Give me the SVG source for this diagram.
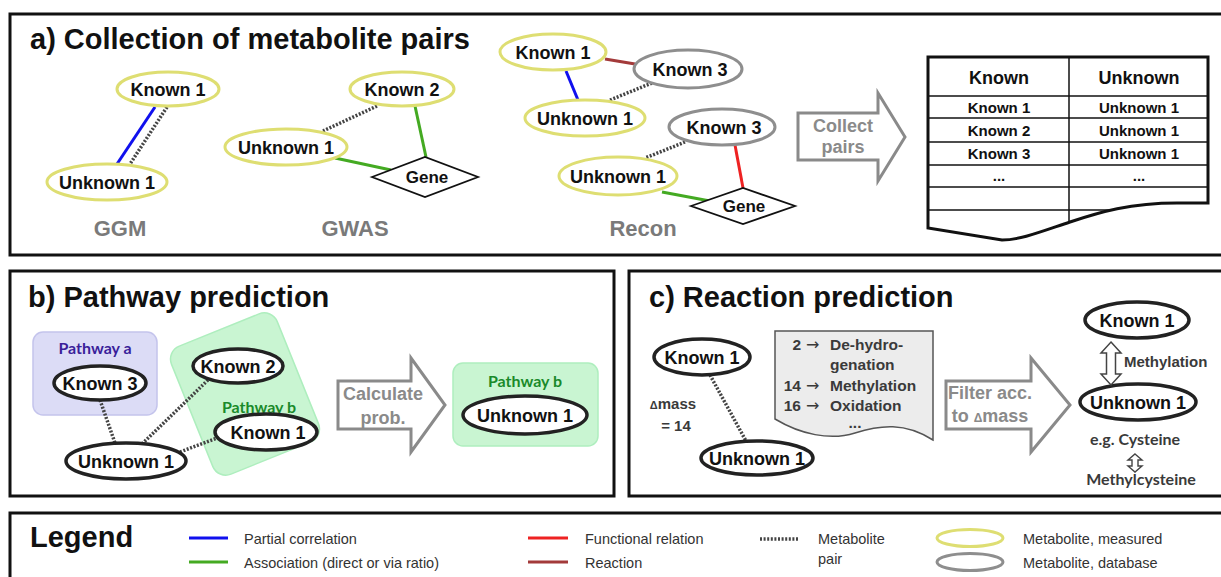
<svg xmlns="http://www.w3.org/2000/svg" width="1221" height="577" viewBox="0 0 1221 577">
  <defs>
    <style>
      .frame { fill: none; stroke: #111; stroke-width: 3; }
      .ttl { font: bold 29px 'Liberation Sans', Arial, sans-serif; fill: #111; }
      .nl { font: bold 18px 'Liberation Sans', Arial, sans-serif; fill: #111; text-anchor: middle; }
      .gl { font: bold 17px 'Liberation Sans', Arial, sans-serif; fill: #111; text-anchor: middle; }
      .src { font: bold 22px 'Liberation Sans', Arial, sans-serif; fill: #7a7a7a; text-anchor: middle; }
      .arr { fill: #fff; stroke: #8a8a8a; stroke-width: 3; stroke-linejoin: miter; }
      .arrt { font: bold 18px 'Liberation Sans', Arial, sans-serif; fill: #8a8a8a; text-anchor: middle; }
      .meas { fill: #fff; stroke: #dede72; stroke-width: 3; }
      .db { fill: #fff; stroke: #8e8e8e; stroke-width: 3; }
      .blk { fill: #fff; stroke: #222; stroke-width: 3.5; }
      .gene { fill: #fff; stroke: #111; stroke-width: 1.8; }
      .pair { stroke: #444; stroke-width: 3.5; stroke-dasharray: 2 1.6; fill: none; }
      .pcor { stroke: #1010ee; stroke-width: 3; }
      .assoc { stroke: #44aa22; stroke-width: 3; }
      .func { stroke: #ee2222; stroke-width: 3; }
      .react { stroke: #a33a3a; stroke-width: 3; }
      .th { font: bold 18px 'Liberation Sans', Arial, sans-serif; fill: #111; text-anchor: middle; }
      .td { font: bold 15px 'Liberation Sans', Arial, sans-serif; fill: #111; text-anchor: middle; }
      .tline { stroke: #111; stroke-width: 1.5; }
      .pw { font: bold 16px Lato, 'Open Sans', sans-serif; text-anchor: middle; }
      .doc { font: bold 15.5px 'Liberation Sans', Arial, sans-serif; fill: #3a3a3a; }
      .ar { font: 16px 'DejaVu Sans', sans-serif; fill: #3a3a3a; }
      .dk { font: bold 15px 'Liberation Sans', Arial, sans-serif; fill: #3a3a3a; }
      .cal { font: bold 16px Lato, 'Open Sans', sans-serif; fill: #3a3a3a; text-anchor: middle; }
      .lg { font: 14.5px 'Liberation Sans', Arial, sans-serif; fill: #333; }
    </style>
    <clipPath id="tableClip">
      <path d="M928,57 H1208 V203 H1177 C1130,203 1100,212 1070,222 C1040,232 1020,240 1002,240 L928,228 Z"/>
    </clipPath>
  </defs>

  <rect width="1221" height="577" fill="#fff"/>

  <!-- panel frames -->
  <rect class="frame" x="10" y="14" width="1220" height="241"/>
  <rect class="frame" x="10" y="271" width="604" height="225"/>
  <rect class="frame" x="629" y="271" width="600" height="225"/>
  <rect class="frame" x="10" y="513" width="1220" height="80"/>

  <!-- titles -->
  <text class="ttl" x="30" y="49">a) Collection of metabolite pairs</text>
  <text class="ttl" x="28" y="307">b) Pathway prediction</text>
  <text class="ttl" x="649" y="307">c) Reaction prediction</text>
  <text class="ttl" x="30" y="547">Legend</text>

  <!-- pathway backgrounds -->
  <g id="pathway-a">
    <rect x="33" y="332" width="124" height="83" rx="10" fill="#dcdcf6" stroke="#c4c4ec" stroke-width="1.5"/>
    <text class="pw" x="95" y="354" fill="#3a1e9a">Pathway a</text>
  </g>
  <g id="pathway-b">
    <rect x="-57" y="-69" width="114" height="138" rx="14" fill="#c9f5d2" stroke="#aeeebe" stroke-width="1.5" transform="translate(245,394) rotate(-22)"/>
    <text class="pw" x="259" y="413" fill="#1a8a2a">Pathway b</text>
  </g>
  <g id="pathway-b-result">
    <rect x="453" y="363" width="145" height="83" rx="10" fill="#c9f5d2" stroke="#aeeebe" stroke-width="1.5"/>
    <text class="pw" x="525" y="387" fill="#1a8a2a">Pathway b</text>
  </g>

  <!-- connectors -->
  <g id="connectors">
    <!-- GGM -->
    <line class="pcor" x1="155" y1="107" x2="117" y2="164"/>
    <line class="pair" x1="167" y1="107" x2="130" y2="164"/>
    <!-- GWAS -->
    <line class="pair" x1="377" y1="106" x2="323" y2="131"/>
    <line class="assoc" x1="415" y1="106" x2="426" y2="157"/>
    <line class="assoc" x1="335" y1="158" x2="391" y2="170"/>
    <!-- Recon -->
    <line class="react" x1="605" y1="59" x2="635" y2="64"/>
    <line class="pcor" x1="566" y1="71" x2="578" y2="100"/>
    <line class="pair" x1="610" y1="100" x2="652" y2="83"/>
    <line class="pair" x1="685" y1="142" x2="645" y2="158"/>
    <line class="func" x1="735" y1="145" x2="743" y2="188"/>
    <line class="assoc" x1="662" y1="192" x2="710" y2="201"/>
    <!-- pathway prediction -->
    <line class="pair" x1="100" y1="400" x2="115" y2="443"/>
    <line class="pair" x1="142" y1="444" x2="208" y2="380"/>
    <line class="pair" x1="180" y1="452" x2="217" y2="438"/>
    <!-- reaction prediction -->
    <line class="pair" x1="710" y1="375" x2="746" y2="441"/>
  </g>

  <!-- a) GGM -->
  <g id="ggm-known1"><ellipse class="meas" cx="168" cy="89" rx="51" ry="17"/><text class="nl" x="168" y="95.5">Known 1</text></g>
  <g id="ggm-unknown1"><ellipse class="meas" cx="107" cy="182" rx="60" ry="18"/><text class="nl" x="107" y="188.5">Unknown 1</text></g>
  <text class="src" x="120" y="236">GGM</text>

  <!-- a) GWAS -->
  <g id="gwas-known2"><ellipse class="meas" cx="402" cy="89" rx="52" ry="17"/><text class="nl" x="402" y="95.5">Known 2</text></g>
  <g id="gwas-unknown1"><ellipse class="meas" cx="286" cy="147" rx="61" ry="18"/><text class="nl" x="286" y="153.5">Unknown 1</text></g>
  <g id="gwas-gene"><polygon class="gene" points="372,177 425,157 478,177 425,197"/><text class="gl" x="427" y="183">Gene</text></g>
  <text class="src" x="355" y="236">GWAS</text>

  <!-- a) Recon -->
  <g id="recon-known1"><ellipse class="meas" cx="553" cy="52" rx="53" ry="18"/><text class="nl" x="553" y="58.5">Known 1</text></g>
  <g id="recon-known3a"><ellipse class="db" cx="688" cy="69" rx="54" ry="19"/><text class="nl" x="690" y="75.5">Known 3</text></g>
  <g id="recon-unknown1a"><ellipse class="meas" cx="585" cy="118" rx="60" ry="18"/><text class="nl" x="585" y="124.5">Unknown 1</text></g>
  <g id="recon-known3b"><ellipse class="db" cx="722" cy="127" rx="53" ry="18"/><text class="nl" x="724" y="133.5">Known 3</text></g>
  <g id="recon-unknown1b"><ellipse class="meas" cx="618" cy="176" rx="59" ry="19"/><text class="nl" x="618" y="182.5">Unknown 1</text></g>
  <g id="recon-gene"><polygon class="gene" points="691,206 743,188 795,206 743,224"/><text class="gl" x="744" y="212">Gene</text></g>
  <text class="src" x="643" y="236">Recon</text>

  <!-- a) collect arrow -->
  <g id="collect-arrow">
    <path class="arr" d="M798,113 H878 V93 L905,137 L878,181 V160 H798 Z"/>
    <text class="arrt" x="843" y="132">Collect</text>
    <text class="arrt" x="843" y="153">pairs</text>
  </g>

  <!-- a) pair table -->
  <g id="pair-table">
    <path d="M928,57 H1208 V203 H1177 C1130,203 1100,212 1070,222 C1040,232 1020,240 1002,240 L928,228 Z" fill="#fff"/>
    <g clip-path="url(#tableClip)">
      <line class="tline" x1="928" y1="96" x2="1208" y2="96"/>
      <line class="tline" x1="928" y1="118" x2="1208" y2="118"/>
      <line class="tline" x1="928" y1="142" x2="1208" y2="142"/>
      <line class="tline" x1="928" y1="165" x2="1208" y2="165"/>
      <line class="tline" x1="928" y1="187" x2="1208" y2="187"/>
      <line class="tline" x1="928" y1="210" x2="1208" y2="210"/>
      <line class="tline" x1="1069" y1="57" x2="1069" y2="240"/>
    </g>
    <path d="M928,57 H1208 V203 H1177 C1130,203 1100,212 1070,222 C1040,232 1020,240 1002,240 L928,228 Z" fill="none" stroke="#111" stroke-width="3"/>
    <text class="th" x="999" y="84">Known</text>
    <text class="th" x="1139" y="84">Unknown</text>
    <text class="td" x="999" y="113">Known 1</text>
    <text class="td" x="1139" y="113">Unknown 1</text>
    <text class="td" x="999" y="136">Known 2</text>
    <text class="td" x="1139" y="136">Unknown 1</text>
    <text class="td" x="999" y="159">Known 3</text>
    <text class="td" x="1139" y="159">Unknown 1</text>
    <text class="td" x="999" y="181">...</text>
    <text class="td" x="1139" y="181">...</text>
  </g>

  <!-- b) pathway prediction nodes -->
  <g id="pb-known3"><ellipse class="blk" cx="100" cy="383" rx="46" ry="17"/><text class="nl" x="100" y="389.5">Known 3</text></g>
  <g id="pb-known2"><ellipse class="blk" cx="238" cy="366" rx="45" ry="17"/><text class="nl" x="238" y="372.5">Known 2</text></g>
  <g id="pb-known1"><ellipse class="blk" cx="266" cy="432" rx="51" ry="18"/><text class="nl" x="268" y="438.5">Known 1</text></g>
  <g id="pb-unknown1"><ellipse class="blk" cx="126" cy="461" rx="60" ry="18"/><text class="nl" x="126" y="467.5">Unknown 1</text></g>
  <g id="calc-arrow">
    <path class="arr" d="M338,381 H411 V358 L445,405 L411,452 V429 H338 Z"/>
    <text class="arrt" x="383" y="400">Calculate</text>
    <text class="arrt" x="383" y="424">prob.</text>
  </g>
  <g id="pb-result-unknown1"><ellipse class="blk" cx="525" cy="415" rx="62" ry="19"/><text class="nl" x="525" y="421.5">Unknown 1</text></g>

  <!-- c) reaction prediction nodes -->
  <g id="rc-known1"><ellipse class="blk" cx="702" cy="357" rx="48" ry="18"/><text class="nl" x="702" y="363.5">Known 1</text></g>
  <g id="rc-unknown1"><ellipse class="blk" cx="757" cy="458" rx="56" ry="17"/><text class="nl" x="757" y="464.5">Unknown 1</text></g>
  <text class="dk" x="673" y="409" text-anchor="middle"><tspan font-size="11">Δ</tspan>mass</text>
  <text class="dk" x="676" y="431" text-anchor="middle">= 14</text>

  <g id="mass-table">
    <path d="M775,331 H933 V440 C905,422 880,425 855,433 C830,441 800,434 775,419 Z" fill="#ececec" stroke="#555" stroke-width="1.5"/>
    <text class="doc" x="801" y="350" text-anchor="end">2</text>
    <text class="ar" x="806" y="350">→</text>
    <text class="doc" x="830" y="350">De-hydro-</text>
    <text class="doc" x="830" y="370">genation</text>
    <text class="doc" x="801" y="391" text-anchor="end">14</text>
    <text class="ar" x="806" y="391">→</text>
    <text class="doc" x="830" y="391">Methylation</text>
    <text class="doc" x="801" y="411" text-anchor="end">16</text>
    <text class="ar" x="806" y="411">→</text>
    <text class="doc" x="830" y="411">Oxidation</text>
    <text class="doc" x="855" y="428" text-anchor="middle" font-size="13">...</text>
  </g>

  <g id="filter-arrow">
    <path class="arr" d="M946,381 H1031 V358 L1070,405 L1031,452 V429 H946 Z"/>
    <text class="arrt" x="990" y="399" font-size="17">Filter acc.</text>
    <text class="arrt" x="990" y="422" font-size="17">to <tspan font-size="12">Δ</tspan>mass</text>
  </g>

  <g id="rc-result-known1"><ellipse class="blk" cx="1137" cy="320" rx="52" ry="18"/><text class="nl" x="1137" y="326.5">Known 1</text></g>
  <g id="rc-result-unknown1"><ellipse class="blk" cx="1138" cy="402" rx="58" ry="18"/><text class="nl" x="1138" y="408.5">Unknown 1</text></g>
  <g id="methylation-link">
    <path d="M1111,342 L1121,353 H1115.5 V374 H1121 L1111,385 L1101,374 H1106.5 V353 H1101 Z" fill="#fff" stroke="#444" stroke-width="1.5" stroke-linejoin="miter"/>
    <text class="dk" x="1124" y="367">Methylation</text>
  </g>
  <g id="example">
    <text class="cal" x="1135" y="445">e.g. Cysteine</text>
    <path d="M1135,454 L1142,460 H1138 V466 H1142 L1135,472 L1128,466 H1132 V460 H1128 Z" fill="#fff" stroke="#444" stroke-width="1.4"/>
    <text class="cal" x="1141" y="485">Methylcysteine</text>
  </g>

  <!-- legend -->
  <g id="legend">
    <line class="pcor" x1="189" y1="538" x2="228" y2="538" stroke-width="3.5"/>
    <text class="lg" x="244" y="544">Partial correlation</text>
    <line class="assoc" x1="189" y1="562" x2="228" y2="562" stroke-width="3.5"/>
    <text class="lg" x="244" y="568">Association (direct or via ratio)</text>
    <line class="func" x1="528" y1="538" x2="568" y2="538" stroke-width="3.5"/>
    <text class="lg" x="585" y="544">Functional relation</text>
    <line class="react" x1="528" y1="562" x2="568" y2="562" stroke-width="3.5"/>
    <text class="lg" x="585" y="568">Reaction</text>
    <line class="pair" x1="760" y1="539" x2="798" y2="539" stroke-width="3"/>
    <text class="lg" x="818" y="544">Metabolite</text>
    <text class="lg" x="818" y="564">pair</text>
    <ellipse class="meas" cx="970" cy="538" rx="33" ry="8.5" stroke-width="3.5"/>
    <text class="lg" x="1023" y="544">Metabolite, measured</text>
    <ellipse class="db" cx="970" cy="562" rx="33" ry="8.5" stroke-width="3.5"/>
    <text class="lg" x="1023" y="568">Metabolite, database</text>
  </g>
</svg>
